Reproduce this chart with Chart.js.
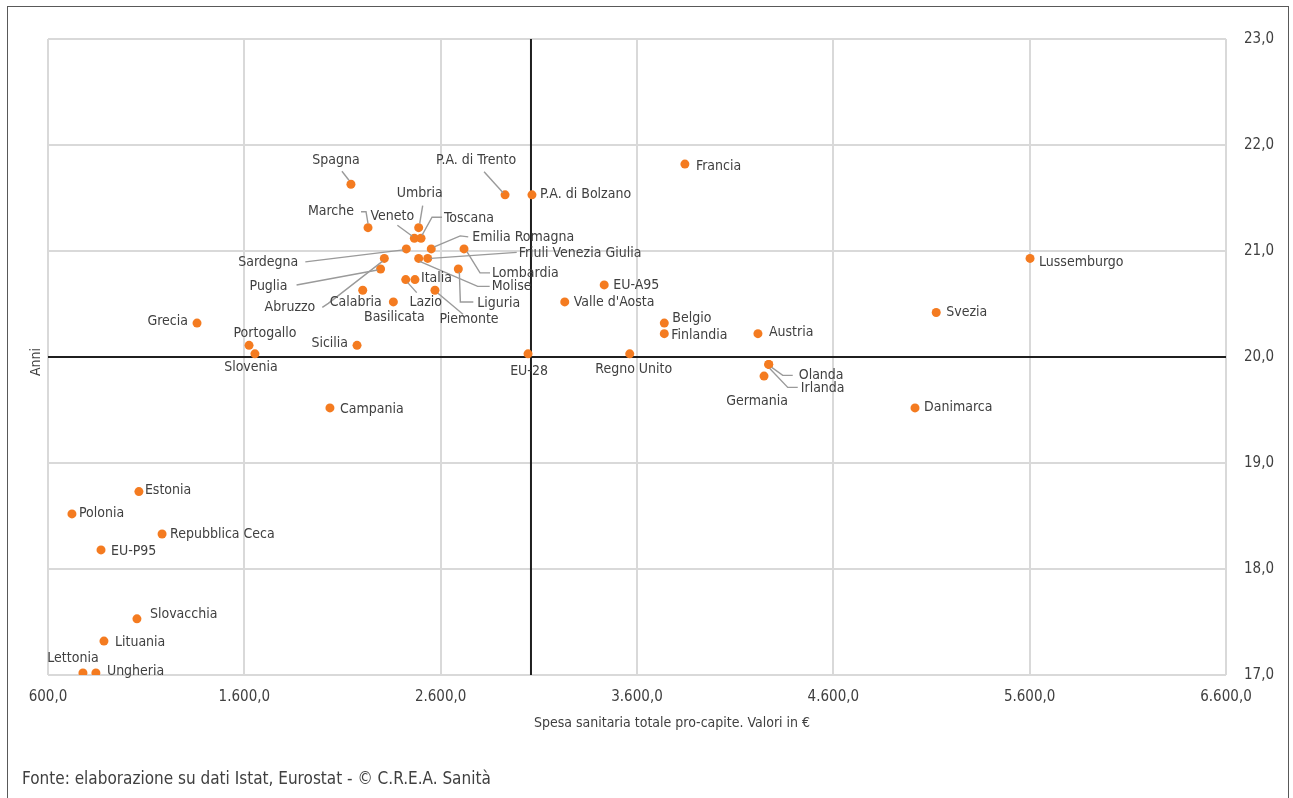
<!DOCTYPE html>
<html>
<head>
<meta charset="utf-8">
<script src="https://cdn.jsdelivr.net/npm/chart.js@4.4.1/dist/chart.umd.min.js"></script>
<style>
  body{margin:0;background:#fff;}
  canvas{position:absolute;left:0;top:0;}
</style>
</head>
<body>
<canvas id="graph" width="1293" height="798"></canvas>
<script>
// dati
const regioni = ["Spagna","P.A. di Trento","P.A. di Bolzano","Francia","Marche","Umbria","Veneto","Toscana",
  "Sardegna","Emilia Romagna","Friuli Venezia Giulia","Lombardia","Molise","Abruzzo","Puglia","Liguria",
  "Lazio","Italia","Calabria","Piemonte","Basilicata","EU-A95","Valle d'Aosta","Grecia","Portogallo",
  "Slovenia","Sicilia","Campania","EU-28","Regno Unito","Belgio","Finlandia","Austria","Olanda","Irlanda",
  "Germania","Svezia","Danimarca","Lussemburgo","Estonia","Polonia","Repubblica Ceca","EU-P95",
  "Slovacchia","Lituania","Lettonia","Ungheria"];
const spesa = [2143,2928,3065,3844,2230,2488,2466,2500,
  2425,2552,2534,2719,2488,2313,2294,2690,
  2422,2469,2203,2571,2359,3433,3232,1359,1624,
  1654,2174,2036,3045,3563,3739,3739,4216,4271,4271,
  4247,5124,5016,5602,1063,722,1181,870,
  1053,885,778,844];
const anni = [21.63,21.53,21.53,21.82,21.22,21.22,21.12,21.12,
  21.02,21.02,20.93,21.02,20.93,20.93,20.83,20.83,
  20.73,20.73,20.63,20.63,20.52,20.68,20.52,20.32,20.11,
  20.03,20.11,19.52,20.03,20.03,20.32,20.22,20.22,19.93,19.93,
  19.82,20.42,19.52,20.93,18.73,18.52,18.33,18.18,
  17.53,17.32,17.02,17.02];
const xTicks = [600,1600,2600,3600,4600,5600,6600];
const yTicks = [17,18,19,20,21,22,23];
const mediaSpesa = 3060;
const mediaAnni = 20.0;

// posizione delle etichette rispetto al punto: dx, dy, allineamento
const etichette = {
  "Spagna":[-15,-24,"center"], "P.A. di Trento":[-29,-34,"center"], "P.A. di Bolzano":[8,0,"left"],
  "Francia":[11,2,"left"], "Marche":[-14,-16,"right"], "Umbria":[1,-34,"center"], "Veneto":[-22,-22,"center"],
  "Toscana":[23,-20,"left"], "Sardegna":[-108,13,"right"], "Emilia Romagna":[41,-12,"left"],
  "Friuli Venezia Giulia":[91,-5,"left"], "Lombardia":[28,24,"left"], "Molise":[73,28,"left"],
  "Abruzzo":[-69,49,"right"], "Puglia":[-93,17,"right"], "Liguria":[19,34,"left"], "Lazio":[20,23,"center"],
  "Italia":[6,-1,"left"], "Calabria":[-7,12,"center"], "Piemonte":[34,29,"center"], "Basilicata":[1,15,"center"],
  "EU-A95":[9,0,"left"], "Valle d'Aosta":[9,0,"left"], "Grecia":[-9,-2,"right"], "Portogallo":[16,-12,"center"],
  "Slovenia":[-4,14,"center"], "Sicilia":[-9,-2,"right"], "Campania":[10,1,"left"], "EU-28":[1,18,"center"],
  "Regno Unito":[4,16,"center"], "Belgio":[8,-5,"left"], "Finlandia":[7,2,"left"], "Austria":[11,-1,"left"],
  "Olanda":[30,11,"left"], "Irlanda":[32,24,"left"], "Germania":[-7,25,"center"], "Svezia":[10,0,"left"],
  "Danimarca":[9,-1,"left"], "Lussemburgo":[9,4,"left"], "Estonia":[6,-1,"left"], "Polonia":[7,-1,"left"],
  "Repubblica Ceca":[8,0,"left"], "EU-P95":[10,1,"left"], "Slovacchia":[13,-4,"left"], "Lituania":[11,1,"left"],
  "Lettonia":[-10,-15,"center"], "Ungheria":[11,-2,"left"]
};
// linee di richiamo (spostamenti dal punto)
const richiami = {
  "Spagna":[[-9,-13],[-2,-4]],
  "P.A. di Trento":[[-21,-23],[-2,-2]],
  "Marche":[[-7,-16],[-2,-16],[0,-4]],
  "Veneto":[[-17,-13],[-2,-2]],
  "Umbria":[[4,-22],[1,-4]],
  "Toscana":[[21,-21],[11,-21],[1,-3]],
  "Emilia Romagna":[[37,-12],[29,-13],[3,-2]],
  "Friuli Venezia Giulia":[[89,-6],[3,0]],
  "Sardegna":[[-101,13],[-3,1]],
  "Puglia":[[-84,16],[-3,1]],
  "Abruzzo":[[-62,49],[-56,45],[-2,3]],
  "Lazio":[[11,13],[2,3]],
  "Piemonte":[[3,3],[28,24]],
  "Lombardia":[[3,3],[16,24],[26,24]],
  "Molise":[[1,3],[59,28],[71,28]],
  "Liguria":[[1,3],[2,33],[15,33]],
  "Olanda":[[3,3],[14,11],[24,11]],
  "Irlanda":[[1,4],[19,23],[29,23]]
};

const FONT = "'Liberation Sans Narrow','DejaVu Sans Condensed','Roboto Condensed',Roboto,sans-serif";
const TESTO = "#404040";
Chart.defaults.font.family = FONT;
Chart.defaults.color = TESTO;

function formatta(v){
  var s = Math.round(v).toString();
  s = s.replace(/\B(?=(\d{3})+(?!\d))/g, ".");
  return s + ",0";
}

const punti = regioni.map(function(r, i){ return {x: spesa[i], y: anni[i]}; });

const cornice = {
  id: 'cornice',
  beforeDraw: function(chart){
    var ctx = chart.ctx;
    ctx.save();
    ctx.strokeStyle = "#595959";
    ctx.lineWidth = 1;
    ctx.strokeRect(7.5, 6.5, 1281, 800);
    ctx.restore();
  },
  afterDraw: function(chart){
    var ctx = chart.ctx;
    var a = chart.chartArea;
    ctx.save();
    ctx.fillStyle = TESTO;
    ctx.font = "14px " + FONT;
    ctx.textAlign = "center";
    ctx.textBaseline = "middle";
    ctx.fillText("Spesa sanitaria totale pro-capite. Valori in €", 672, 723);
    ctx.save();
    ctx.translate(36, (a.top + a.bottom) / 2 + 5);
    ctx.rotate(-Math.PI / 2);
    ctx.fillText("Anni", 0, 0);
    ctx.restore();
    ctx.font = "17px " + FONT;
    ctx.textAlign = "left";
    ctx.fillText("Fonte: elaborazione su dati Istat, Eurostat - © C.R.E.A. Sanità", 22, 780);
    ctx.restore();
  }
};

const nomi = {
  id: 'nomi',
  afterDatasetsDraw: function(chart){
    var ctx = chart.ctx;
    var meta = chart.getDatasetMeta(0);
    ctx.save();
    ctx.strokeStyle = "#9a9a9a";
    ctx.lineWidth = 1.4;
    regioni.forEach(function(r, i){
      var p = meta.data[i];
      var l = richiami[r];
      if(!l) return;
      ctx.beginPath();
      l.forEach(function(o, k){
        if(k == 0) ctx.moveTo(p.x + o[0], p.y + o[1]);
        else ctx.lineTo(p.x + o[0], p.y + o[1]);
      });
      ctx.stroke();
    });
    ctx.fillStyle = TESTO;
    ctx.font = "14px " + FONT;
    ctx.textBaseline = "middle";
    regioni.forEach(function(r, i){
      var p = meta.data[i];
      var e = etichette[r];
      ctx.textAlign = e[2];
      ctx.fillText(r, p.x + e[0], p.y + e[1]);
    });
    ctx.restore();
  }
};

const griglia = "#d9d9d9";

new Chart(document.getElementById("graph"), {
  type: 'scatter',
  data: {
    datasets: [{
      data: punti,
      backgroundColor: "#f47b20",
      borderWidth: 0,
      pointRadius: 4.5,
      order: 0
    }, {
      data: [{x: mediaSpesa, y: yTicks[0]}, {x: mediaSpesa, y: yTicks[yTicks.length - 1]}],
      showLine: true,
      borderColor: "#1f1f1f",
      borderWidth: 2,
      pointRadius: 0,
      order: 1
    }, {
      data: [{x: xTicks[0], y: mediaAnni}, {x: xTicks[xTicks.length - 1], y: mediaAnni}],
      showLine: true,
      borderColor: "#1f1f1f",
      borderWidth: 2,
      pointRadius: 0,
      order: 1
    }]
  },
  options: {
    responsive: false,
    animation: false,
    devicePixelRatio: 1,
    events: [],
    layout: { padding: { left: 48, top: 39, right: 0, bottom: 0 } },
    plugins: {
      legend: { display: false },
      tooltip: { enabled: false }
    },
    scales: {
      x: {
        type: 'linear',
        min: xTicks[0],
        max: xTicks[xTicks.length - 1],
        afterBuildTicks: function(s){ s.ticks = xTicks.map(function(v){ return {value: v}; }); },
        afterFit: function(s){ s.height = 123; },
        grid: { color: griglia, lineWidth: 2, drawTicks: false },
        border: { display: false },
        ticks: { padding: 13, font: { size: 15 }, color: TESTO, maxRotation: 0, callback: function(v){ return formatta(v); } }
      },
      y: {
        type: 'linear',
        position: 'right',
        min: yTicks[0],
        max: yTicks[yTicks.length - 1],
        afterBuildTicks: function(s){ s.ticks = yTicks.map(function(v){ return {value: v}; }); },
        afterFit: function(s){ s.width = 67; },
        grid: { color: griglia, lineWidth: 2, drawTicks: false },
        border: { display: false },
        ticks: { padding: 18, font: { size: 15 }, color: TESTO, callback: function(v){ return formatta(v * 10).replace(/(\d),0$/, ",$1"); } }
      }
    }
  },
  plugins: [cornice, nomi]
});
</script>
</body>
</html>
